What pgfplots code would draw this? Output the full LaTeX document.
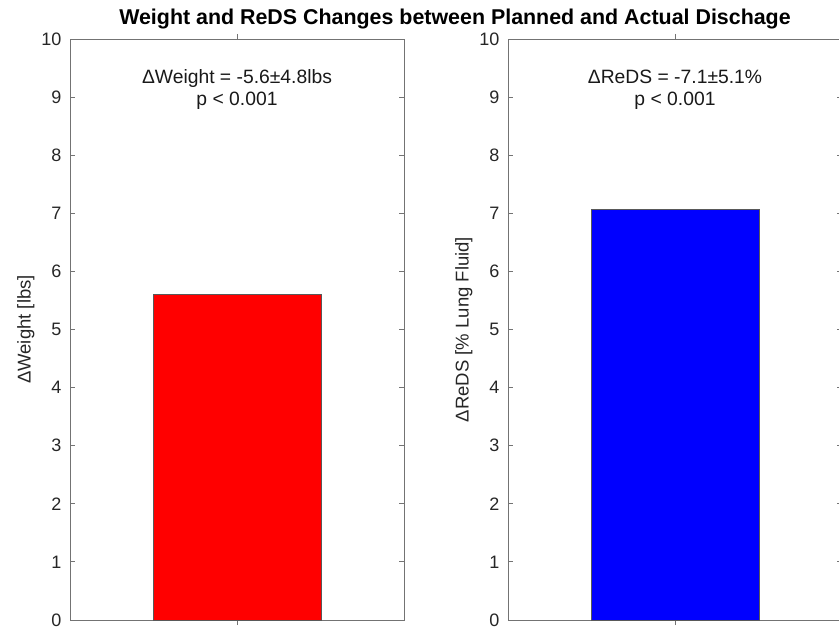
\documentclass[border=0pt]{standalone}
\usepackage{pgfplots}
\pgfplotsset{compat=1.18}
\usepackage{fontspec}
\setmainfont{Liberation Sans}
\begin{document}
\begin{tikzpicture}[x=1pt,y=1pt]
\pgfplotsset{
 mybar/.style={
  width=334pt, height=581pt, scale only axis,
  anchor=south west,
  xmin=0, xmax=2, ymin=0, ymax=10,
  xtick={1}, xticklabels={},
  ytick={0,1,...,10},
  tick align=inside, tick pos=both,
  major tick length=5pt,
  axis line style={black!55, line width=0.9pt},
  every tick/.style={black!55, line width=0.9pt},
  tick label style={font=\fontsize{18}{21}\selectfont, text=black!85},
  yticklabel style={xshift=-5pt},
  /pgf/number format/assume math mode=true,
  ylabel style={font=\fontsize{18.5}{21}\selectfont, text=black!85},
  ybar, bar width=168pt,
  clip=false,
 }
}
\begin{axis}[mybar, at={(70pt,10pt)}, ylabel={ΔWeight [lbs]}]
\addplot[fill=red, draw=black!65, line width=0.6pt] coordinates {(1,5.6)};
\node[align=center, font=\fontsize{19.3}{22.5}\selectfont, text=black!90] at (axis cs:1,9.13) {ΔWeight = -5.6±4.8lbs\\p < 0.001};
\end{axis}
\begin{axis}[mybar, at={(508pt,10pt)}, ylabel={ΔReDS [\% Lung Fluid]}]
\addplot[fill=blue, draw=black!65, line width=0.6pt] coordinates {(1,7.07)};
\node[align=center, font=\fontsize{19.3}{22.5}\selectfont, text=black!90] at (axis cs:1,9.13) {ΔReDS = -7.1±5.1\%\\p < 0.001};
\end{axis}
\node[font=\bfseries\fontsize{21.4}{25}\selectfont] at (455,611) {Weight and ReDS Changes between Planned and Actual Dischage};
\pgfresetboundingbox
\path (0,0) rectangle (839,630);
\end{tikzpicture}
\end{document}
